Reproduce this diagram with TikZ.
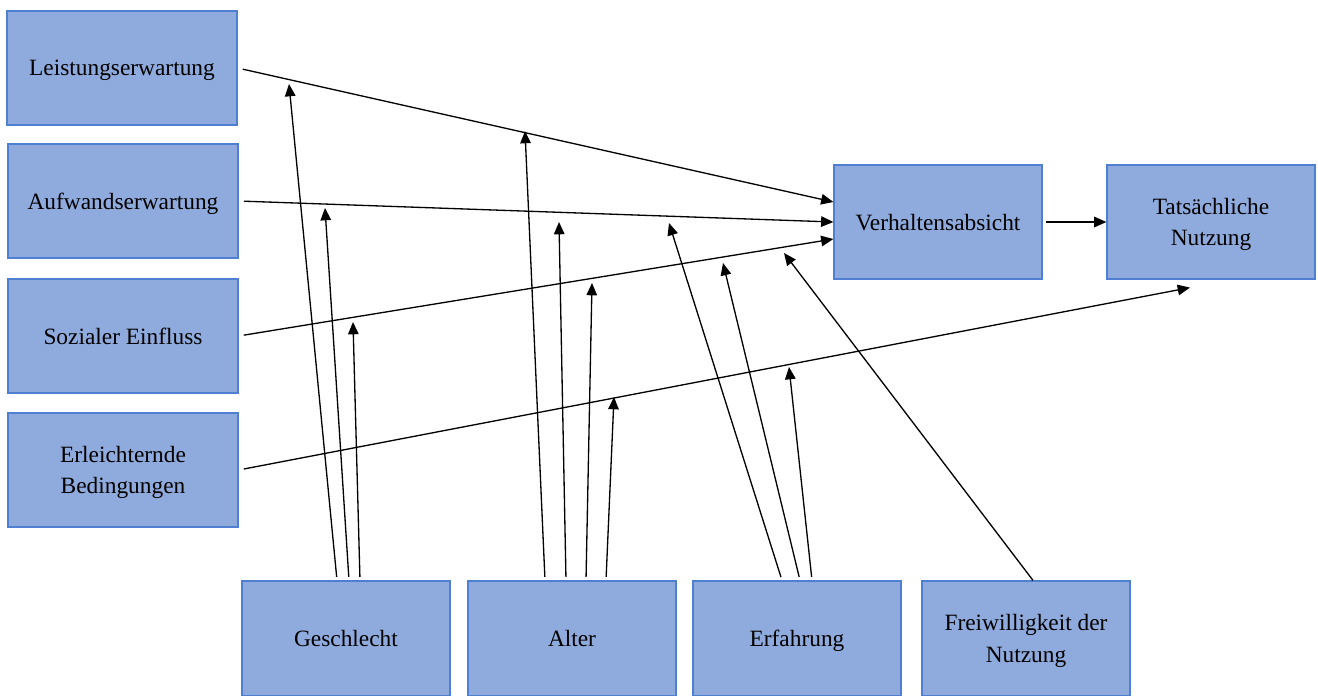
\documentclass[tikz,border=0pt]{standalone}
\usepackage{fontspec}
\setmainfont{Liberation Serif}
\usetikzlibrary{arrows.meta, calc, positioning}

\definecolor{boxfill}{HTML}{8FAADC}
\definecolor{boxline}{HTML}{4F7FD0}

\begin{document}
\begin{tikzpicture}[
    x=0.02cm, y=-0.02cm,
    factor/.style={draw=boxline, fill=boxfill, line width=0.7pt, align=center,
        minimum width=4.6cm, minimum height=2.28cm, inner sep=2pt, text depth=0pt,
        font=\fontsize{13.3}{18}\selectfont},
    target/.style={factor, minimum width=4.16cm},
    moder/.style={factor, minimum width=4.16cm, minimum height=2.3cm},
    link/.style={line width=0.75pt, -{Triangle[length=7pt, width=6pt]}},
]
\useasboundingbox (0,0) rectangle (1318,696);
\clip (0,0) rectangle (1318,696);

% =============================================================================
% Determinants (left column)
% =============================================================================
\node[factor] (leistung) at (122, 68) {Leistungserwartung};
\node[factor] (aufwand)  at (123, 201) {Aufwandserwartung};
\node[factor] (sozial)   at (123, 336) {Sozialer Einfluss};
\node[factor] (erleicht) at (123, 470) {Erleichternde\\Bedingungen};

% =============================================================================
% Intention and usage
% =============================================================================
\node[target] (absicht) at (938, 222) {Verhaltensabsicht};
\node[target] (nutzung) at (1211, 222) {Tatsächliche\\Nutzung};

% =============================================================================
% Moderators (bottom row)
% =============================================================================
\node[moder] (geschlecht) at (346, 638.5) {Geschlecht};
\node[moder] (alter)      at (572, 638.5) {Alter};
\node[moder] (erfahrung)  at (797, 638.5) {Erfahrung};
\node[moder] (freiwillig) at (1026, 638.5) {Freiwilligkeit der\\Nutzung};

% Main paths
\draw[link, shorten <=3pt] (leistung.east) -- ([yshift=0.4cm]absicht.west);
\draw[link, shorten <=3pt] (aufwand.east) -- (absicht.west);
\draw[link, shorten <=3pt] (sozial.east) -- ([yshift=-0.34cm]absicht.west);
\draw[link, shorten <=3pt] (erleicht.east) -- ([xshift=-0.42cm, yshift=-0.16cm]nutzung.south);
\draw[link, shorten <=2pt] (absicht.east) -- (nutzung.west);

% Free ends of the moderator arrows
\coordinate (g1) at (289, 84);
\coordinate (g2) at (325, 208);
\coordinate (g3) at (353, 322);
\coordinate (a1) at (525, 131);
\coordinate (a2) at (559, 222);
\coordinate (a3) at (592, 283);
\coordinate (a4) at (614, 397);
\coordinate (e1) at (669, 223);
\coordinate (e2) at (723, 263);
\coordinate (e3) at (789, 367);
\coordinate (f1) at (784, 253);

% Geschlecht
\draw[link, shorten <=2pt] ([xshift=-0.18cm]geschlecht.north) -- (g1);
\draw[link, shorten <=2pt] ([xshift=0.06cm]geschlecht.north) -- (g2);
\draw[link, shorten <=2pt] ([xshift=0.28cm]geschlecht.north) -- (g3);

% Alter
\draw[link, shorten <=2pt] ([xshift=-0.54cm]alter.north) -- (a1);
\draw[link, shorten <=2pt] ([xshift=-0.12cm]alter.north) -- (a2);
\draw[link, shorten <=2pt] ([xshift=0.28cm]alter.north) -- (a3);
\draw[link, shorten <=2pt] ([xshift=0.68cm]alter.north) -- (a4);

% Erfahrung
\draw[link, shorten <=2pt] ([xshift=-0.30cm]erfahrung.north) -- (e1);
\draw[link, shorten <=2pt] ([xshift=0.06cm]erfahrung.north) -- (e2);
\draw[link, shorten <=2pt] ([xshift=0.30cm]erfahrung.north) -- (e3);

% Freiwilligkeit
\draw[link] ([xshift=0.14cm]freiwillig.north) -- (f1);

\end{tikzpicture}
\end{document}
